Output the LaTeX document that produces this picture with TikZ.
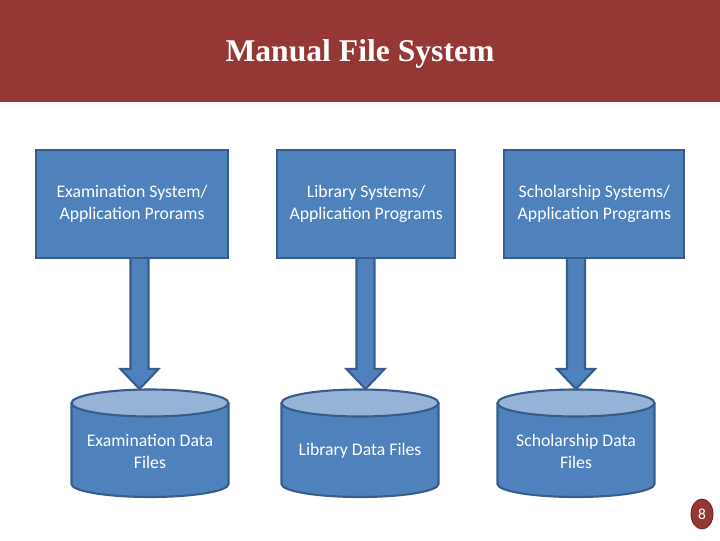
\documentclass[tikz,border=0pt]{standalone}
\usepackage{fontspec}
\setmainfont{Carlito}
\newfontfamily\titlefont{Liberation Serif}
\usepackage{tikz}
\usetikzlibrary{positioning,calc}
\definecolor{headred}{RGB}{149,55,53}
\definecolor{boxblue}{RGB}{79,129,189}
\definecolor{boxline}{RGB}{56,93,138}
\definecolor{toplight}{RGB}{149,179,215}
\pgfdeclarelayer{background}
\pgfsetlayers{background,main}

% cylinder drawn round a data file node
\newcommand{\datafile}[1]{%
  \filldraw[dbbody] ($(#1)+(-78.5,48)$) -- ++(0,-81)
    arc[start angle=180, end angle=360, x radius=78.5, y radius=13] -- ++(0,81);
  \filldraw[dbtop] ($(#1)+(0,48)$) ellipse[x radius=78.5, y radius=13.5];
}
% block arrow from a system box down to a tip coordinate
\newcommand{\blockarrow}[2]{%
  \filldraw[blockarr] ($(#2 |- #1.south)+(-9,0)$) -- ($(#2)+(-9,20)$) -- ($(#2)+(-19,20)$)
    -- (#2) -- ($(#2)+(19,20)$) -- ($(#2)+(9,20)$) -- ($(#2 |- #1.south)+(9,0)$);
}

\begin{document}
\begin{tikzpicture}[x=0.025cm, y=0.025cm,
  sysbox/.style={rectangle, draw=boxline, fill=boxblue, line width=1.5pt,
                 minimum width=#1, minimum height=2.7cm, align=center, text=white,
                 font=\fontsize{12.6}{15.6}\selectfont, inner sep=0pt},
  dbtext/.style={align=center, text=white, font=\fontsize{12.6}{15.6}\selectfont},
  dbbody/.style={draw=boxline, fill=boxblue, line width=1.5pt},
  dbtop/.style={draw=boxline, fill=toplight, line width=1.5pt},
  blockarr/.style={draw=boxline, fill=boxblue, line width=1.5pt, line join=miter}
]
  \useasboundingbox (0,0) rectangle (720,540);

  % Header band
  \fill[headred] (0,438) rectangle (720,540);
  \node[anchor=base, text=white, font=\titlefont\bfseries\fontsize{22.5}{26}\selectfont]
    (title) at (360,478) {Manual File System};

  % Application program boxes
  \node[sysbox=4.8cm] (exsys) at (132,336) {Examination System/\\Application Prorams};
  \node[sysbox=4.45cm, right=1.175cm of exsys] (libsys) {Library Systems/\\Application Programs};
  \node[sysbox=4.5cm, right=1.175cm of libsys] (schsys) {Scholarship Systems/\\Application Programs};

  % Data files
  \node[dbtext] (exdb) at (150,89) {Examination Data\\Files};
  \node[dbtext] (libdb) at (360,89) {Library Data Files};
  \node[dbtext] (schdb) at (576,89) {Scholarship Data\\Files};

  \begin{pgfonlayer}{background}
    \datafile{exdb}
    \datafile{libdb}
    \datafile{schdb}
  \end{pgfonlayer}

  % Arrow tips on the file tops
  \coordinate (extop) at (139.5,151);
  \coordinate (libtop) at (365.5,151);
  \coordinate (schtop) at (576,151);

  % Arrows
  \blockarrow{exsys}{extop}
  \blockarrow{libsys}{libtop}
  \blockarrow{schsys}{schtop}

  % Page number
  \filldraw[fill=headred, draw=headred!70!black, line width=0.6pt] (702,26) ellipse[x radius=11, y radius=15];
  \node[text=white, font=\fontsize{11}{12}\selectfont] (pagenum) at (702,26) {8};
\end{tikzpicture}
\end{document}
